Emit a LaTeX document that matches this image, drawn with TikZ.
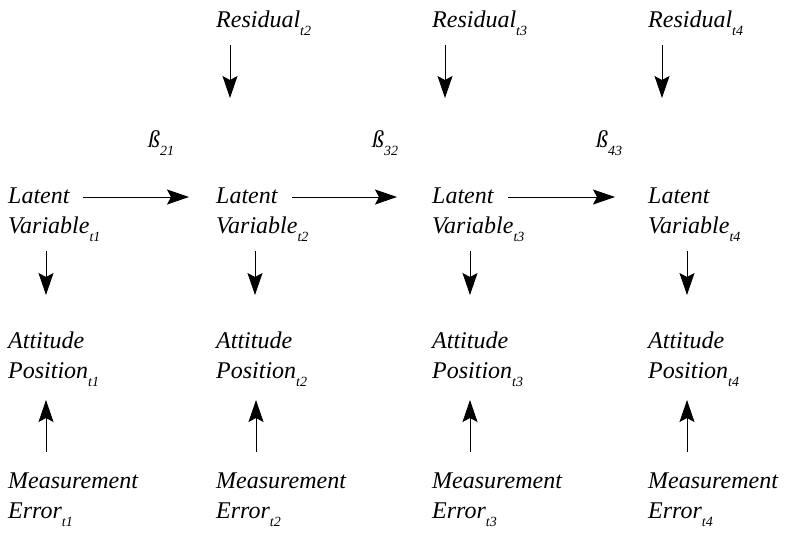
\documentclass[tikz,border=0pt]{standalone}
\usepackage{fontspec}
\setmainfont{Liberation Serif}
\usetikzlibrary{arrows.meta}
\newcommand{\tsub}[1]{\raisebox{-8pt}{\fontsize{14}{14}\selectfont\itshape #1}}
\newcommand{\lab}[2]{\begin{tabular}[t]{@{}l@{}}#1\\#2\end{tabular}}
\tikzset{
  txt/.style={inner sep=0pt, anchor=base west, font=\fontsize{24}{30}\selectfont\itshape},
  arr/.style={line width=0.9pt, -{Stealth[length=22pt,width=15pt,inset=4pt]}}
}
\begin{document}
\begin{tikzpicture}[x=1pt,y=-1pt]
\useasboundingbox (0,0) rectangle (785,539);
% residuals
\node[txt] (r2) at (216,27) {Residual\tsub{t2}};
\node[txt] (r3) at (432,27) {Residual\tsub{t3}};
\node[txt] (r4) at (648,27) {Residual\tsub{t4}};
% betas
\node[txt] (b21) at (148,147) {ß\tsub{21}};
\node[txt] (b32) at (372,147) {ß\tsub{32}};
\node[txt] (b43) at (596,147) {ß\tsub{43}};
% latent
\node[txt] (l1) at (8,203) {\lab{Latent}{Variable\tsub{t1}}};
\node[txt] (l2) at (216,203) {\lab{Latent}{Variable\tsub{t2}}};
\node[txt] (l3) at (432,203) {\lab{Latent}{Variable\tsub{t3}}};
\node[txt] (l4) at (648,203) {\lab{Latent}{Variable\tsub{t4}}};
% attitude
\node[txt] (a1) at (8,348) {\lab{Attitude}{Position\tsub{t1}}};
\node[txt] (a2) at (216,348) {\lab{Attitude}{Position\tsub{t2}}};
\node[txt] (a3) at (432,348) {\lab{Attitude}{Position\tsub{t3}}};
\node[txt] (a4) at (648,348) {\lab{Attitude}{Position\tsub{t4}}};
% measurement
\node[txt] (m1) at (8,488) {\lab{Measurement}{Error\tsub{t1}}};
\node[txt] (m2) at (216,488) {\lab{Measurement}{Error\tsub{t2}}};
\node[txt] (m3) at (432,488) {\lab{Measurement}{Error\tsub{t3}}};
\node[txt] (m4) at (648,488) {\lab{Measurement}{Error\tsub{t4}}};
% residual arrows
\draw[arr] ([shift={(14,18)}]r2.base west) -- ([shift={(14,-105)}]l2.base west);
\draw[arr] ([shift={(13,18)}]r3.base west) -- ([shift={(13,-105)}]l3.base west);
\draw[arr] ([shift={(14,18)}]r4.base west) -- ([shift={(14,-105)}]l4.base west);
% horizontal arrows
\draw[arr] ([shift={(75,-6)}]l1.base west) -- ([shift={(-27,-6)}]l2.base west);
\draw[arr] ([shift={(76,-6)}]l2.base west) -- ([shift={(-35,-6)}]l3.base west);
\draw[arr] ([shift={(76,-6)}]l3.base west) -- ([shift={(-33,-6)}]l4.base west);
% latent -> attitude
\draw[arr] ([shift={(38,48)}]l1.base west) -- ([shift={(38,-53)}]a1.base west);
\draw[arr] ([shift={(39,48)}]l2.base west) -- ([shift={(39,-53)}]a2.base west);
\draw[arr] ([shift={(38,48)}]l3.base west) -- ([shift={(38,-53)}]a3.base west);
\draw[arr] ([shift={(39,48)}]l4.base west) -- ([shift={(39,-53)}]a4.base west);
% measurement -> attitude
\draw[arr] ([shift={(38,-36)}]m1.base west) -- ([shift={(38,52)}]a1.base west);
\draw[arr] ([shift={(40,-36)}]m2.base west) -- ([shift={(40,52)}]a2.base west);
\draw[arr] ([shift={(38,-36)}]m3.base west) -- ([shift={(38,52)}]a3.base west);
\draw[arr] ([shift={(39,-36)}]m4.base west) -- ([shift={(39,52)}]a4.base west);
\end{tikzpicture}
\end{document}
